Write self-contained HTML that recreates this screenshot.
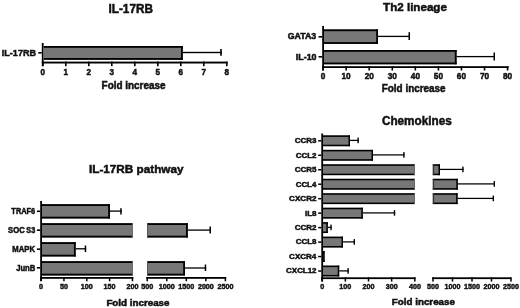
<!DOCTYPE html>
<html><head><meta charset="utf-8"><style>
html,body{margin:0;padding:0;background:#fff;}
body{width:520px;height:308px;overflow:hidden;}
svg{display:block;filter:grayscale(1);}
text{font-family:"Liberation Sans",sans-serif;font-weight:bold;fill:#111;stroke:#111;stroke-width:0.5px;}
</style></head><body>
<svg width="520" height="308" viewBox="0 0 520 308">
<rect width="520" height="308" fill="#fff"/>
<text transform="translate(108.46,12.80) scale(0.977,1)" font-size="12.06">IL-17RB</text>
<rect x="41.80" y="43.00" width="1.80" height="23.20" fill="#000"/>
<rect x="41.80" y="61.60" width="185.80" height="1.90" fill="#000"/>
<rect x="42.00" y="61.60" width="1.60" height="4.60" fill="#000"/>
<text transform="translate(40.55,75.30) scale(0.900,1)" font-size="9.00">0</text>
<rect x="65.00" y="61.60" width="1.60" height="4.60" fill="#000"/>
<text transform="translate(63.41,75.30) scale(0.900,1)" font-size="9.00">1</text>
<rect x="88.00" y="61.60" width="1.60" height="4.60" fill="#000"/>
<text transform="translate(86.57,75.30) scale(0.900,1)" font-size="9.00">2</text>
<rect x="111.00" y="61.60" width="1.60" height="4.60" fill="#000"/>
<text transform="translate(109.60,75.30) scale(0.900,1)" font-size="9.00">3</text>
<rect x="134.00" y="61.60" width="1.60" height="4.60" fill="#000"/>
<text transform="translate(132.51,75.30) scale(0.900,1)" font-size="9.00">4</text>
<rect x="157.00" y="61.60" width="1.60" height="4.60" fill="#000"/>
<text transform="translate(155.54,75.30) scale(0.900,1)" font-size="9.00">5</text>
<rect x="180.00" y="61.60" width="1.60" height="4.60" fill="#000"/>
<text transform="translate(178.54,75.30) scale(0.900,1)" font-size="9.00">6</text>
<rect x="203.00" y="61.60" width="1.60" height="4.60" fill="#000"/>
<text transform="translate(201.55,75.30) scale(0.900,1)" font-size="9.00">7</text>
<rect x="226.00" y="61.60" width="1.60" height="4.60" fill="#000"/>
<text transform="translate(224.54,75.30) scale(0.900,1)" font-size="9.00">8</text>
<rect x="43.60" y="46.00" width="139.20" height="13.80" fill="#777777"/>
<rect x="43.60" y="46.00" width="139.20" height="1.80" fill="#000"/>
<rect x="43.60" y="58.00" width="139.20" height="1.80" fill="#000"/>
<rect x="181.00" y="46.00" width="1.80" height="13.80" fill="#000"/>
<rect x="182.80" y="51.80" width="39.00" height="1.40" fill="#000"/>
<rect x="220.20" y="49.00" width="1.60" height="6.80" fill="#000"/>
<rect x="38.30" y="52.00" width="3.50" height="1.60" fill="#000"/>
<text transform="translate(1.85,55.80) scale(0.986,1)" font-size="9.16">IL-17RB</text>
<text transform="translate(101.58,88.50) scale(0.973,1)" font-size="10.21">Fold increase</text>
<text transform="translate(383.12,11.20) scale(1.001,1)" font-size="11.59">Th2 lineage</text>
<rect x="322.20" y="26.00" width="1.80" height="44.50" fill="#000"/>
<rect x="322.20" y="66.20" width="186.40" height="1.80" fill="#000"/>
<rect x="322.30" y="66.20" width="1.60" height="4.30" fill="#000"/>
<text transform="translate(320.80,79.10) scale(0.920,1)" font-size="9.00">0</text>
<rect x="345.36" y="66.20" width="1.60" height="4.30" fill="#000"/>
<text transform="translate(341.47,79.10) scale(0.920,1)" font-size="9.00">10</text>
<rect x="368.42" y="66.20" width="1.60" height="4.30" fill="#000"/>
<text transform="translate(364.64,79.10) scale(0.920,1)" font-size="9.00">20</text>
<rect x="391.48" y="66.20" width="1.60" height="4.30" fill="#000"/>
<text transform="translate(387.75,79.10) scale(0.920,1)" font-size="9.00">30</text>
<rect x="414.54" y="66.20" width="1.60" height="4.30" fill="#000"/>
<text transform="translate(410.84,79.10) scale(0.920,1)" font-size="9.00">40</text>
<rect x="437.60" y="66.20" width="1.60" height="4.30" fill="#000"/>
<text transform="translate(433.84,79.10) scale(0.920,1)" font-size="9.00">50</text>
<rect x="460.66" y="66.20" width="1.60" height="4.30" fill="#000"/>
<text transform="translate(456.87,79.10) scale(0.920,1)" font-size="9.00">60</text>
<rect x="483.72" y="66.20" width="1.60" height="4.30" fill="#000"/>
<text transform="translate(479.91,79.10) scale(0.920,1)" font-size="9.00">70</text>
<rect x="506.78" y="66.20" width="1.60" height="4.30" fill="#000"/>
<text transform="translate(503.01,79.10) scale(0.920,1)" font-size="9.00">80</text>
<rect x="324.00" y="29.40" width="54.00" height="14.50" fill="#777777"/>
<rect x="324.00" y="29.40" width="54.00" height="1.80" fill="#000"/>
<rect x="324.00" y="42.10" width="54.00" height="1.80" fill="#000"/>
<rect x="376.20" y="29.40" width="1.80" height="14.50" fill="#000"/>
<rect x="378.00" y="35.75" width="32.00" height="1.30" fill="#000"/>
<rect x="408.50" y="32.20" width="1.50" height="7.80" fill="#000"/>
<rect x="324.00" y="50.00" width="132.60" height="14.30" fill="#777777"/>
<rect x="324.00" y="50.00" width="132.60" height="1.80" fill="#000"/>
<rect x="324.00" y="62.50" width="132.60" height="1.80" fill="#000"/>
<rect x="454.80" y="50.00" width="1.80" height="14.30" fill="#000"/>
<rect x="456.60" y="55.95" width="38.40" height="1.30" fill="#000"/>
<rect x="493.50" y="52.50" width="1.50" height="8.00" fill="#000"/>
<rect x="318.60" y="36.00" width="3.60" height="1.60" fill="#000"/>
<rect x="318.60" y="56.00" width="3.60" height="1.60" fill="#000"/>
<text transform="translate(287.69,39.30) scale(1.043,1)" font-size="8.45">GATA3</text>
<text transform="translate(295.86,59.50) scale(1.030,1)" font-size="8.60">IL-10</text>
<text transform="translate(381.79,91.80) scale(0.984,1)" font-size="10.07">Fold increase</text>
<text transform="translate(88.96,172.80) scale(1.039,1)" font-size="11.31">IL-17RB pathway</text>
<rect x="40.20" y="201.00" width="1.80" height="80.00" fill="#000"/>
<rect x="40.20" y="277.00" width="93.10" height="1.80" fill="#000"/>
<rect x="146.45" y="277.00" width="79.75" height="1.80" fill="#000"/>
<rect x="40.35" y="277.00" width="1.50" height="4.30" fill="#000"/>
<text transform="translate(39.11,289.20) scale(0.910,1)" font-size="7.90">0</text>
<rect x="63.19" y="277.00" width="1.50" height="4.30" fill="#000"/>
<text transform="translate(59.98,289.20) scale(0.910,1)" font-size="7.90">50</text>
<rect x="86.03" y="277.00" width="1.50" height="4.30" fill="#000"/>
<text transform="translate(80.71,289.20) scale(0.910,1)" font-size="7.90">100</text>
<rect x="108.87" y="277.00" width="1.50" height="4.30" fill="#000"/>
<text transform="translate(103.55,289.20) scale(0.910,1)" font-size="7.90">150</text>
<rect x="131.71" y="277.00" width="1.50" height="4.30" fill="#000"/>
<text transform="translate(126.49,289.20) scale(0.910,1)" font-size="7.90">200</text>
<rect x="146.45" y="277.00" width="1.50" height="4.30" fill="#000"/>
<text transform="translate(141.24,289.20) scale(0.910,1)" font-size="7.90">500</text>
<rect x="166.00" y="277.00" width="1.50" height="4.30" fill="#000"/>
<text transform="translate(158.68,289.20) scale(0.910,1)" font-size="7.90">1000</text>
<rect x="185.55" y="277.00" width="1.50" height="4.30" fill="#000"/>
<text transform="translate(178.23,289.20) scale(0.910,1)" font-size="7.90">1500</text>
<rect x="205.10" y="277.00" width="1.50" height="4.30" fill="#000"/>
<text transform="translate(197.88,289.20) scale(0.910,1)" font-size="7.90">2000</text>
<rect x="224.65" y="277.00" width="1.50" height="4.30" fill="#000"/>
<text transform="translate(217.43,289.20) scale(0.910,1)" font-size="7.90">2500</text>
<rect x="42.00" y="204.20" width="68.00" height="14.30" fill="#777777"/>
<rect x="42.00" y="204.20" width="68.00" height="1.80" fill="#000"/>
<rect x="42.00" y="216.70" width="68.00" height="1.80" fill="#000"/>
<rect x="108.20" y="204.20" width="1.80" height="14.30" fill="#000"/>
<rect x="110.00" y="210.45" width="11.70" height="1.30" fill="#000"/>
<rect x="120.20" y="208.20" width="1.50" height="6.30" fill="#000"/>
<rect x="42.00" y="223.20" width="90.80" height="14.30" fill="#777777"/>
<rect x="42.00" y="223.20" width="90.80" height="1.80" fill="#000"/>
<rect x="42.00" y="235.70" width="90.80" height="1.80" fill="#000"/>
<rect x="131.80" y="223.20" width="1.00" height="14.30" fill="#666"/>
<rect x="147.00" y="223.20" width="40.80" height="14.30" fill="#777777"/>
<rect x="147.00" y="223.20" width="40.80" height="1.80" fill="#000"/>
<rect x="147.00" y="235.70" width="40.80" height="1.80" fill="#000"/>
<rect x="186.00" y="223.20" width="1.80" height="14.30" fill="#000"/>
<rect x="147.00" y="223.20" width="1.00" height="14.30" fill="#555"/>
<rect x="187.80" y="229.45" width="23.20" height="1.30" fill="#000"/>
<rect x="209.50" y="226.50" width="1.50" height="7.00" fill="#000"/>
<rect x="42.00" y="242.20" width="33.70" height="14.30" fill="#777777"/>
<rect x="42.00" y="242.20" width="33.70" height="1.80" fill="#000"/>
<rect x="42.00" y="254.70" width="33.70" height="1.80" fill="#000"/>
<rect x="73.90" y="242.20" width="1.80" height="14.30" fill="#000"/>
<rect x="75.70" y="248.15" width="10.50" height="1.30" fill="#000"/>
<rect x="84.70" y="245.50" width="1.50" height="6.50" fill="#000"/>
<rect x="42.00" y="261.20" width="90.80" height="14.30" fill="#777777"/>
<rect x="42.00" y="261.20" width="90.80" height="1.80" fill="#000"/>
<rect x="42.00" y="273.70" width="90.80" height="1.80" fill="#000"/>
<rect x="131.80" y="261.20" width="1.00" height="14.30" fill="#666"/>
<rect x="147.00" y="261.20" width="38.00" height="14.30" fill="#777777"/>
<rect x="147.00" y="261.20" width="38.00" height="1.80" fill="#000"/>
<rect x="147.00" y="273.70" width="38.00" height="1.80" fill="#000"/>
<rect x="183.20" y="261.20" width="1.80" height="14.30" fill="#000"/>
<rect x="147.00" y="261.20" width="1.00" height="14.30" fill="#555"/>
<rect x="185.00" y="267.35" width="21.20" height="1.30" fill="#000"/>
<rect x="204.70" y="264.50" width="1.50" height="6.50" fill="#000"/>
<rect x="36.90" y="210.50" width="3.30" height="1.60" fill="#000"/>
<rect x="36.90" y="229.40" width="3.30" height="1.60" fill="#000"/>
<rect x="36.90" y="248.40" width="3.30" height="1.60" fill="#000"/>
<rect x="36.90" y="267.00" width="3.30" height="1.60" fill="#000"/>
<text transform="translate(11.37,214.00) scale(0.861,1)" font-size="8.60">TRAF6</text>
<text transform="translate(8.03,233.10) scale(0.913,1)" font-size="8.45">SOC</text>
<text transform="translate(26.34,233.10) scale(0.858,1)" font-size="8.45">S3</text>
<text transform="translate(12.33,251.60) scale(0.884,1)" font-size="8.72">MAPK</text>
<text transform="translate(16.14,270.50) scale(0.879,1)" font-size="8.72">JunB</text>
<text transform="translate(106.39,306.00) scale(1.093,1)" font-size="8.97">Fold increase</text>
<text transform="translate(381.97,125.40) scale(0.978,1)" font-size="12.00">Chemokines</text>
<rect x="321.30" y="133.50" width="1.80" height="148.00" fill="#000"/>
<rect x="321.30" y="277.30" width="94.30" height="1.80" fill="#000"/>
<rect x="432.20" y="277.30" width="79.00" height="1.80" fill="#000"/>
<rect x="321.45" y="277.30" width="1.50" height="4.30" fill="#000"/>
<text transform="translate(320.21,289.30) scale(0.910,1)" font-size="7.90">0</text>
<rect x="344.60" y="277.30" width="1.50" height="4.30" fill="#000"/>
<text transform="translate(339.28,289.30) scale(0.910,1)" font-size="7.90">100</text>
<rect x="367.75" y="277.30" width="1.50" height="4.30" fill="#000"/>
<text transform="translate(362.53,289.30) scale(0.910,1)" font-size="7.90">200</text>
<rect x="390.90" y="277.30" width="1.50" height="4.30" fill="#000"/>
<text transform="translate(385.72,289.30) scale(0.910,1)" font-size="7.90">300</text>
<rect x="414.05" y="277.30" width="1.50" height="4.30" fill="#000"/>
<text transform="translate(408.90,289.30) scale(0.910,1)" font-size="7.90">400</text>
<rect x="432.25" y="277.30" width="1.50" height="4.30" fill="#000"/>
<text transform="translate(427.04,289.30) scale(0.910,1)" font-size="7.90">500</text>
<rect x="451.75" y="277.30" width="1.50" height="4.30" fill="#000"/>
<text transform="translate(444.43,289.30) scale(0.910,1)" font-size="7.90">1000</text>
<rect x="471.25" y="277.30" width="1.50" height="4.30" fill="#000"/>
<text transform="translate(463.93,289.30) scale(0.910,1)" font-size="7.90">1500</text>
<rect x="490.75" y="277.30" width="1.50" height="4.30" fill="#000"/>
<text transform="translate(483.53,289.30) scale(0.910,1)" font-size="7.90">2000</text>
<rect x="510.25" y="277.30" width="1.50" height="4.30" fill="#000"/>
<text transform="translate(503.03,289.30) scale(0.910,1)" font-size="7.90">2500</text>
<rect x="323.00" y="135.40" width="27.00" height="10.80" fill="#777777"/>
<rect x="323.00" y="135.40" width="27.00" height="1.50" fill="#000"/>
<rect x="323.00" y="144.70" width="27.00" height="1.50" fill="#000"/>
<rect x="348.50" y="135.40" width="1.50" height="10.80" fill="#000"/>
<rect x="350.00" y="139.78" width="8.80" height="1.25" fill="#000"/>
<rect x="357.40" y="137.60" width="1.40" height="5.60" fill="#000"/>
<rect x="323.00" y="149.87" width="50.00" height="10.80" fill="#777777"/>
<rect x="323.00" y="149.87" width="50.00" height="1.50" fill="#000"/>
<rect x="323.00" y="159.17" width="50.00" height="1.50" fill="#000"/>
<rect x="371.50" y="149.87" width="1.50" height="10.80" fill="#000"/>
<rect x="373.00" y="154.28" width="31.60" height="1.25" fill="#000"/>
<rect x="403.20" y="152.10" width="1.40" height="5.60" fill="#000"/>
<rect x="323.00" y="164.34" width="92.00" height="10.80" fill="#777777"/>
<rect x="323.00" y="164.34" width="92.00" height="1.50" fill="#000"/>
<rect x="323.00" y="173.64" width="92.00" height="1.50" fill="#000"/>
<rect x="414.00" y="164.34" width="1.00" height="10.80" fill="#666"/>
<rect x="432.80" y="164.34" width="7.20" height="10.80" fill="#777777"/>
<rect x="432.80" y="164.34" width="7.20" height="1.50" fill="#000"/>
<rect x="432.80" y="173.64" width="7.20" height="1.50" fill="#000"/>
<rect x="438.50" y="164.34" width="1.50" height="10.80" fill="#000"/>
<rect x="432.80" y="164.34" width="1.30" height="10.80" fill="#333"/>
<rect x="440.00" y="168.78" width="23.60" height="1.25" fill="#000"/>
<rect x="462.20" y="166.60" width="1.40" height="5.60" fill="#000"/>
<rect x="323.00" y="178.81" width="92.00" height="10.80" fill="#777777"/>
<rect x="323.00" y="178.81" width="92.00" height="1.50" fill="#000"/>
<rect x="323.00" y="188.11" width="92.00" height="1.50" fill="#000"/>
<rect x="414.00" y="178.81" width="1.00" height="10.80" fill="#666"/>
<rect x="432.80" y="178.81" width="25.00" height="10.80" fill="#777777"/>
<rect x="432.80" y="178.81" width="25.00" height="1.50" fill="#000"/>
<rect x="432.80" y="188.11" width="25.00" height="1.50" fill="#000"/>
<rect x="456.30" y="178.81" width="1.50" height="10.80" fill="#000"/>
<rect x="432.80" y="178.81" width="1.30" height="10.80" fill="#333"/>
<rect x="457.80" y="183.28" width="37.20" height="1.25" fill="#000"/>
<rect x="493.60" y="181.10" width="1.40" height="5.60" fill="#000"/>
<rect x="323.00" y="193.28" width="92.00" height="10.80" fill="#777777"/>
<rect x="323.00" y="193.28" width="92.00" height="1.50" fill="#000"/>
<rect x="323.00" y="202.58" width="92.00" height="1.50" fill="#000"/>
<rect x="414.00" y="193.28" width="1.00" height="10.80" fill="#666"/>
<rect x="432.80" y="193.28" width="24.80" height="10.80" fill="#777777"/>
<rect x="432.80" y="193.28" width="24.80" height="1.50" fill="#000"/>
<rect x="432.80" y="202.58" width="24.80" height="1.50" fill="#000"/>
<rect x="456.10" y="193.28" width="1.50" height="10.80" fill="#000"/>
<rect x="432.80" y="193.28" width="1.30" height="10.80" fill="#333"/>
<rect x="457.60" y="197.78" width="36.40" height="1.25" fill="#000"/>
<rect x="492.60" y="195.60" width="1.40" height="5.60" fill="#000"/>
<rect x="323.00" y="207.75" width="39.80" height="10.80" fill="#777777"/>
<rect x="323.00" y="207.75" width="39.80" height="1.50" fill="#000"/>
<rect x="323.00" y="217.05" width="39.80" height="1.50" fill="#000"/>
<rect x="361.30" y="207.75" width="1.50" height="10.80" fill="#000"/>
<rect x="362.80" y="212.28" width="32.40" height="1.25" fill="#000"/>
<rect x="393.80" y="210.10" width="1.40" height="5.60" fill="#000"/>
<rect x="323.00" y="222.22" width="4.80" height="10.80" fill="#777777"/>
<rect x="323.00" y="222.22" width="4.80" height="1.50" fill="#000"/>
<rect x="323.00" y="231.52" width="4.80" height="1.50" fill="#000"/>
<rect x="326.30" y="222.22" width="1.50" height="10.80" fill="#000"/>
<rect x="327.80" y="226.78" width="3.90" height="1.25" fill="#000"/>
<rect x="330.30" y="224.60" width="1.40" height="5.60" fill="#000"/>
<rect x="323.00" y="236.69" width="20.00" height="10.80" fill="#777777"/>
<rect x="323.00" y="236.69" width="20.00" height="1.50" fill="#000"/>
<rect x="323.00" y="245.99" width="20.00" height="1.50" fill="#000"/>
<rect x="341.50" y="236.69" width="1.50" height="10.80" fill="#000"/>
<rect x="343.00" y="241.28" width="12.00" height="1.25" fill="#000"/>
<rect x="353.60" y="239.10" width="1.40" height="5.60" fill="#000"/>
<rect x="323.00" y="251.16" width="1.60" height="10.80" fill="#777777"/>
<rect x="323.00" y="251.16" width="1.60" height="1.50" fill="#000"/>
<rect x="323.00" y="260.46" width="1.60" height="1.50" fill="#000"/>
<rect x="323.10" y="251.16" width="1.50" height="10.80" fill="#000"/>
<rect x="323.00" y="265.63" width="16.20" height="10.80" fill="#777777"/>
<rect x="323.00" y="265.63" width="16.20" height="1.50" fill="#000"/>
<rect x="323.00" y="274.93" width="16.20" height="1.50" fill="#000"/>
<rect x="337.70" y="265.63" width="1.50" height="10.80" fill="#000"/>
<rect x="339.20" y="270.27" width="9.60" height="1.25" fill="#000"/>
<rect x="347.40" y="268.10" width="1.40" height="5.60" fill="#000"/>
<rect x="318.20" y="140.05" width="3.10" height="1.50" fill="#000"/>
<text transform="translate(294.72,143.15) scale(0.990,1)" font-size="8.09">CCR3</text>
<rect x="318.20" y="154.52" width="3.10" height="1.50" fill="#000"/>
<text transform="translate(295.72,157.62) scale(0.986,1)" font-size="8.09">CCL2</text>
<rect x="318.20" y="168.99" width="3.10" height="1.50" fill="#000"/>
<text transform="translate(294.72,172.09) scale(0.987,1)" font-size="8.09">CCR5</text>
<rect x="318.20" y="183.46" width="3.10" height="1.50" fill="#000"/>
<text transform="translate(295.73,186.56) scale(0.973,1)" font-size="8.09">CCL4</text>
<rect x="318.20" y="197.93" width="3.10" height="1.50" fill="#000"/>
<text transform="translate(289.12,201.03) scale(1.001,1)" font-size="8.09">CXCR2</text>
<rect x="318.20" y="212.40" width="3.10" height="1.50" fill="#000"/>
<text transform="translate(304.91,215.50) scale(0.991,1)" font-size="8.09">IL8</text>
<rect x="318.20" y="226.87" width="3.10" height="1.50" fill="#000"/>
<text transform="translate(294.72,229.97) scale(0.991,1)" font-size="8.09">CCR2</text>
<rect x="318.20" y="241.34" width="3.10" height="1.50" fill="#000"/>
<text transform="translate(295.72,244.44) scale(0.983,1)" font-size="8.09">CCL8</text>
<rect x="318.20" y="255.81" width="3.10" height="1.50" fill="#000"/>
<text transform="translate(289.12,258.91) scale(0.990,1)" font-size="8.09">CXCR4</text>
<rect x="318.20" y="270.28" width="3.10" height="1.50" fill="#000"/>
<text transform="translate(286.12,273.38) scale(0.981,1)" font-size="8.09">CXCL12</text>
<text transform="translate(391.79,305.20) scale(1.062,1)" font-size="9.24">Fold increase</text>
</svg>
</body></html>
